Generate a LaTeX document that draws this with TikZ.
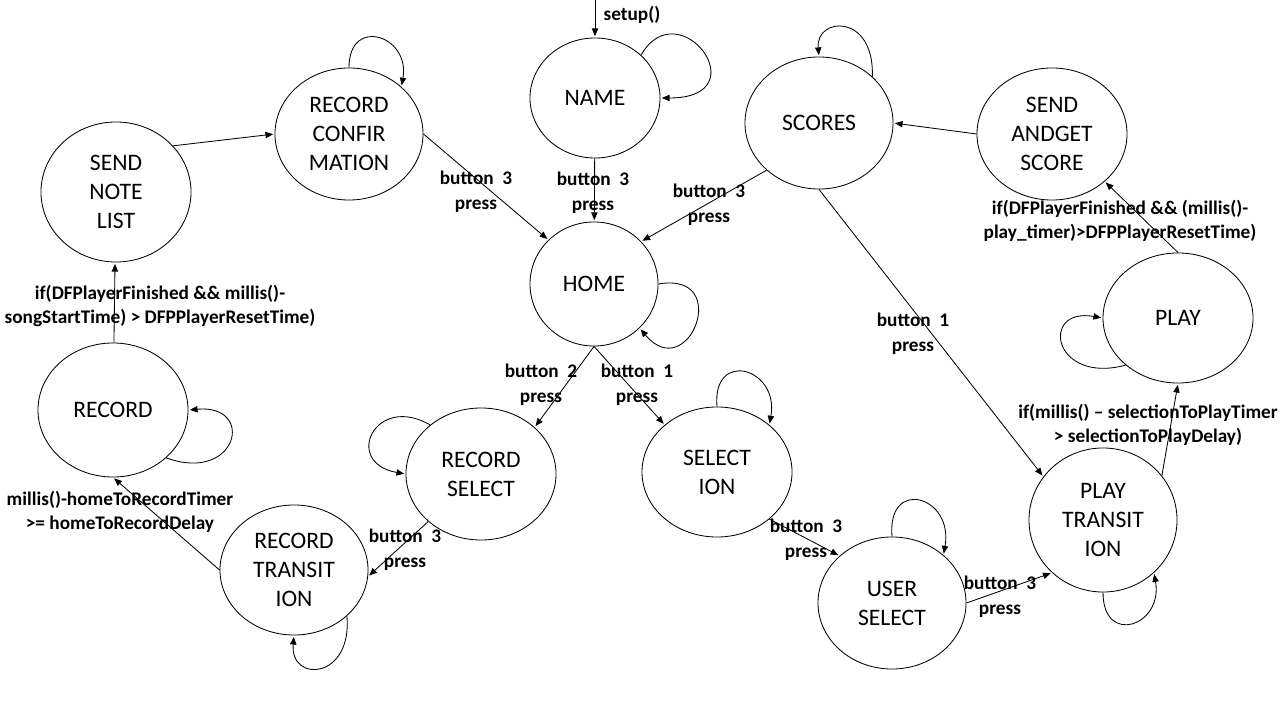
\documentclass[tikz,border=0pt]{standalone}
\usepackage{fontspec}
\setmainfont{Carlito}
\usetikzlibrary{arrows.meta,shapes}
\tikzstyle{st} = [ellipse, draw, align=center, inner sep=0pt,
    minimum width=3.7cm, minimum height=3.3cm, font=\fontsize{16.8}{20.6}\selectfont]
\tikzstyle{lbl} = [align=center, inner sep=0pt, font=\fontsize{13.7}{17.5}\selectfont\bfseries]

\begin{document}
\begin{tikzpicture}[->,>={Triangle[length=5.5pt,width=4.5pt]},shorten >=1pt,semithick,
                    x=0.025cm,y=0.025cm]
  \useasboundingbox (0,0) rectangle (1280,-720);

  \node[st,minimum width=3.25cm,minimum height=3cm]    (name)      at (595,-98)   {NAME};
  \node[st]                                            (scores)    at (819,-123)  {SCORES};
  \node[st]                                            (recconf)   at (349,-134)  {RECORD\\CONFIR\\MATION};
  \node[st,minimum width=3.75cm,minimum height=3.5cm]  (sendnote)  at (116,-192)  {SEND\\NOTE\\LIST};
  \node[st,minimum width=3.75cm]                       (sendscore) at (1052,-134) {SEND\\ANDGET\\SCORE};
  \node[st,minimum width=3.2cm,minimum height=3.1cm]   (home)      at (594,-284)  {HOME};
  \node[st,minimum width=3.75cm,minimum height=3.25cm] (play)      at (1178,-318) {PLAY};
  \node[st,minimum width=3.75cm,minimum height=3.35cm] (record)    at (113,-410)  {RECORD};
  \node[st,minimum height=3.25cm]                      (rectrans)  at (294,-570)  {RECORD\\TRANSIT\\ION};
  \node[st,minimum width=3.75cm]                       (recsel)    at (481,-474)  {RECORD\\SELECT};
  \node[st,minimum width=3.75cm,minimum height=3.25cm] (selection) at (717,-472)  {SELECT\\ION};
  \node[st]                                            (usersel)   at (892,-603)  {USER\\SELECT};
  \node[st,minimum height=3.6cm]                       (playtrans) at (1103,-520) {PLAY\\TRANSIT\\ION};
  \coordinate (start) at (595,0);

  % transitions
  \path (start) edge (name.north)
        (name) edge (home)
        (recconf.east) edge (home.136)
        (scores.222) edge (home.42)
        (sendnote.39) edge (recconf.west)
        (record) edge (sendnote)
        (rectrans.west) edge (record.south)
        (recsel.222) edge (rectrans.-5)
        (home.south) edge (recsel.41)
        (home.south) edge (selection.138)
        (selection.-42) edge (usersel.138)
        (usersel.east) edge (playtrans.226)
        (playtrans.37) edge (play.south)
        (play.north) edge (sendscore.-42)
        (sendscore.west) edge (scores.east)
        (scores.south) edge (playtrans.144);

  % self loops
  \path (name.43) edge [out=60,in=0,out distance=1.9cm,in distance=2.5cm] (name.east)
        (recconf.north) edge [out=90,in=80,distance=1.3cm] (recconf.42)
        (scores.41) edge [out=88,in=95,out distance=1.6cm,in distance=1cm] (scores.north)
        (home.east) edge [out=10,in=-50,distance=1.9cm] (home.-44)
        (record.-42) edge [out=-20,in=5,out distance=1.9cm,in distance=1.7cm] (record.east)
        (rectrans.-41) edge [out=-85,in=-95,out distance=1.6cm,in distance=1.2cm] (rectrans.south)
        (recsel.136) edge [out=150,in=170,distance=1.6cm] (recsel.west)
        (selection.north) edge [out=95,in=80,distance=1.45cm] (selection.42)
        (usersel.north) edge [out=95,in=80,distance=1.5cm] (usersel.43)
        (playtrans.south) edge [out=-90,in=-80,distance=1.35cm] (playtrans.-46)
        (play.222) edge [out=-165,in=170,out distance=1.9cm,in distance=1.6cm] (play.west);

  % labels
  \node[lbl] (l0)  at (632,-15)   {setup()};
  \node[lbl] (l1)  at (593,-193)  {button~~3\\press};
  \node[lbl] (l2)  at (476,-192)  {button~~3\\press};
  \node[lbl] (l3)  at (709,-205)  {button~~3\\press};
  \node[lbl] (l4)  at (160,-306)  {if(DFPlayerFinished \&\& millis()-\\songStartTime) > DFPPlayerResetTime)};
  \node[lbl] (l5)  at (120,-512)  {millis()-homeToRecordTimer\\>= homeToRecordDelay};
  \node[lbl] (l6)  at (405,-550)  {button~~3\\press};
  \node[lbl] (l7)  at (541,-385)  {button~~2\\press};
  \node[lbl] (l8)  at (637,-385)  {button~~1\\press};
  \node[lbl] (l9)  at (806,-540)  {button~~3\\press};
  \node[lbl] (l10) at (1000,-597) {button~~3\\press};
  \node[lbl] (l11) at (1148,-425) {if(millis() – selectionToPlayTimer\\> selectionToPlayDelay)};
  \node[lbl] (l12) at (1120,-221) {if(DFPlayerFinished \&\& (millis()-\\play\_timer)>DFPPlayerResetTime)};
  \node[lbl] (l13) at (913,-334)  {button~~1\\press};
\end{tikzpicture}
\end{document}
